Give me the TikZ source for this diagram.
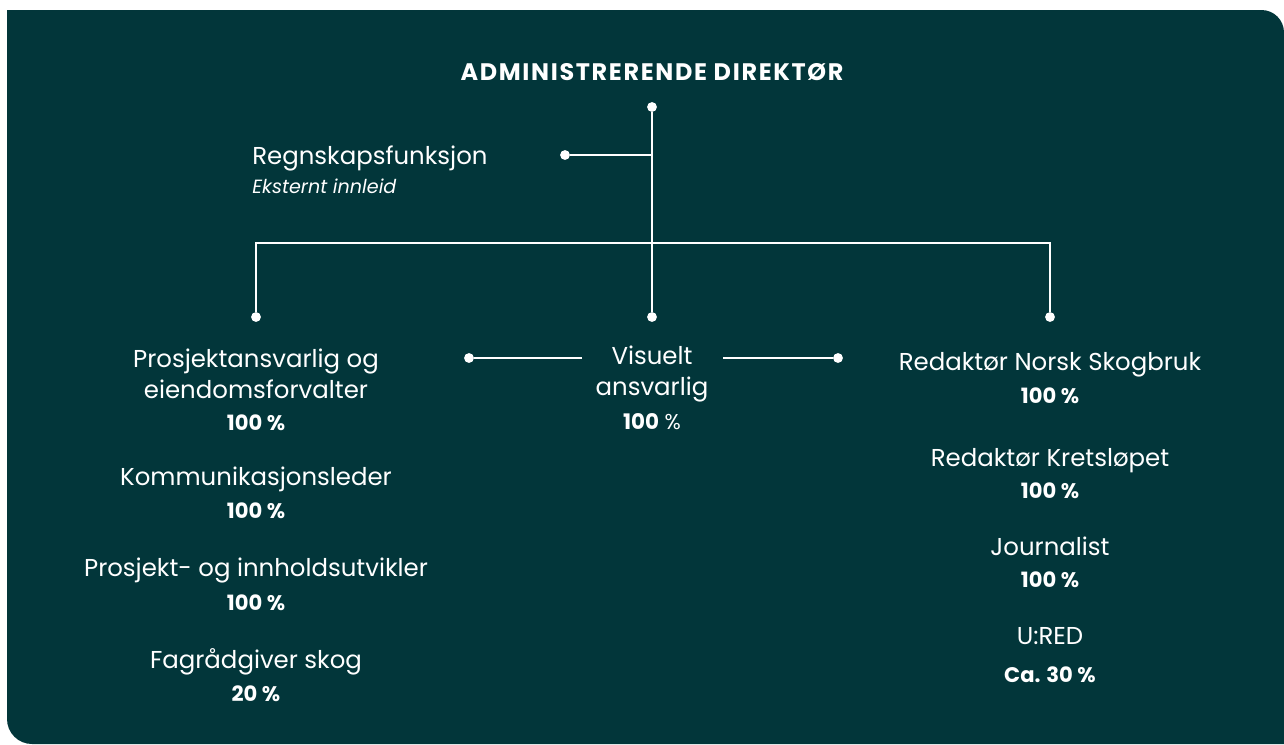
\documentclass[tikz,border=0pt]{standalone}
\usepackage{fontspec}
\setmainfont{Poppins}
\usetikzlibrary{positioning}
\definecolor{bgteal}{HTML}{02363A}

\begin{document}
\begin{tikzpicture}
        [x=0.02cm,y=-0.02cm,
         every node/.style={text=white,inner sep=0pt},
         role/.style={font=\fontsize{13.9}{17.6}\selectfont,anchor=base,align=center},
         pct/.style={font=\fontsize{12}{13}\selectfont\bfseries,anchor=base},
         dot/.style={circle,fill=white,minimum size=5.6pt},
         conn/.style={draw=white,line width=1.6pt}]
        \useasboundingbox (0,0) rectangle (1284,744);
        \fill[bgteal] (1284,744) [rounded corners=0.5cm] -- (7,744) [sharp corners] -- (7,10)
            [rounded corners=0.45cm] -- (1284,10) [sharp corners] -- cycle;

        % top
        \node[font=\fontsize{13.6}{15}\selectfont\bfseries\addfontfeatures{LetterSpace=7},anchor=base] (chief) at (652,80) {ADMINISTRERENDE DIREKTØR};
        \node[anchor=base west,font=\fontsize{13.9}{17}\selectfont] (acct) at (252,164) {Regnskapsfunksjon};
        \node[anchor=base west,font=\fontsize{10.9}{13}\selectfont\itshape] (acctext) at (252,193) {Eksternt innleid};

        \node[dot] (dtop) at (652,107) {};
        \node[dot] (dacct) at (565,155) {};
        \node[dot] (dleft) at (256,317) {};
        \node[dot] (dvis) at (652,317) {};
        \node[dot] (dright) at (1050,317) {};
        \node[dot] (dvl) at (469,358) {};
        \node[dot] (dvr) at (838,358) {};
        \coordinate (bus) at (652,243);
        \coordinate (vl) at (582,358);
        \coordinate (vr) at (723,358);

        % middle
        \node[role] (visual) at (652,395) {Visuelt\\ansvarlig};
        \node[pct,font=\fontsize{12.2}{13}\selectfont] (visualp) at (652,429) {\textbf{100} \%};

        % left column
        \node[role] (project) at (256,398) {Prosjektansvarlig og\\eiendomsforvalter};
        \node[pct] (projectp) at (256,430) {100 \%};
        \node[role] (comm) at (256,485) {Kommunikasjonsleder};
        \node[pct] (commp) at (256,518) {100 \%};
        \node[role] (content) at (256,576) {Prosjekt- og innholdsutvikler};
        \node[pct] (contentp) at (256,610) {100 \%};
        \node[role] (forest) at (256,668) {Fagrådgiver skog};
        \node[pct] (forestp) at (256,701) {20 \%};

        % right column
        \node[role] (editns) at (1050,370) {Redaktør Norsk Skogbruk};
        \node[pct] (editnsp) at (1050,403) {100 \%};
        \node[role] (editkr) at (1050,466) {Redaktør Kretsløpet};
        \node[pct] (editkrp) at (1050,498) {100 \%};
        \node[role] (journ) at (1050,555) {Journalist};
        \node[pct] (journp) at (1050,587) {100 \%};
        \node[role] (ured) at (1050,644) {U:RED};
        \node[pct] (uredp) at (1050,682) {Ca. 30 \%};

        \draw[conn] (dtop) -- (dvis);
        \draw[conn] (dtop |- dacct) -- (dacct);
        \draw[conn] (dleft) -- (dleft |- bus) -- (dright |- bus) -- (dright);
        \draw[conn] (vl) -- (dvl);
        \draw[conn] (vr) -- (dvr);

      \end{tikzpicture}
\end{document}
